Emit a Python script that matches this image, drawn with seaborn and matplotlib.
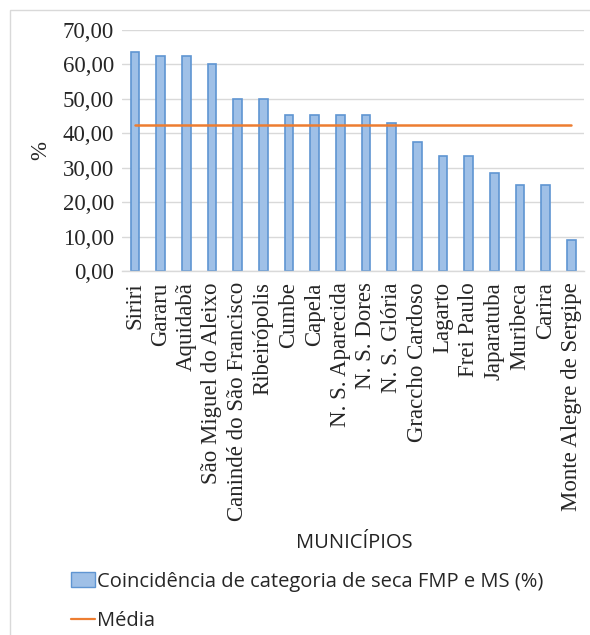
import matplotlib
matplotlib.use("Agg")
import matplotlib.pyplot as plt
from matplotlib.patches import Patch, Rectangle
from matplotlib.lines import Line2D
import seaborn as sns
import pandas as pd

# Municípios and drought-category coincidence (%)
municipios = [
    "Siriri", "Gararu", "Aquidabã", "São Miguel do Aleixo",
    "Canindé do São Francisco", "Ribeirópolis", "Cumbe", "Capela",
    "N. S. Aparecida", "N. S. Dores", "N. S. Glória", "Graccho Cardoso",
    "Lagarto", "Frei Paulo", "Japaratuba", "Muribeca", "Carira",
    "Monte Alegre de Sergipe",
]
coincidencia = [
    63.64, 62.50, 62.50, 60.00, 50.00, 50.00, 45.45, 45.45, 45.45,
    45.45, 42.86, 37.50, 33.33, 33.33, 28.57, 25.00, 25.00, 9.09,
]
media = 42.51
yticks = [0, 10, 20, 30, 40, 50, 60, 70]

df = pd.DataFrame({"municipio": municipios, "valor": coincidencia})

sns.set_theme(style="white")
plt.rcParams["font.family"] = ["Liberation Serif", "DejaVu Serif"]

fig = plt.figure(figsize=(5.9, 6.35), dpi=100)
ax = fig.add_axes([0.207, 0.5732, 0.783, 0.3796])

bar_fill = "#9fc0e7"
bar_edge = "#5f95d2"
sns.barplot(data=df, x="municipio", y="valor", ax=ax, width=0.33,
            color=bar_fill, edgecolor=bar_edge, linewidth=1.2,
            saturation=1)

ax.plot([0, len(municipios) - 1], [media, media], color="#ed7d31",
        linewidth=1.8, zorder=3)

ax.set_ylim(0, 70)
ax.set_xlim(-0.5, len(municipios) - 0.5)
ax.set_yticks(yticks)
ax.set_yticklabels([f"{v:.2f}".replace(".", ",") for v in yticks],
                   fontsize=16.5)
ax.set_xticks(range(len(municipios)))
ax.set_xticklabels(municipios, rotation=90, fontsize=16.5)
ax.tick_params(axis="both", length=0, pad=6)
ax.tick_params(axis="x", pad=8)

ax.yaxis.grid(True, color="#d9d9d9", linewidth=1.0)
ax.set_axisbelow(True)
for side in ["left", "right", "top"]:
    ax.spines[side].set_visible(False)
ax.spines["bottom"].set_color("#d9d9d9")
ax.spines["bottom"].set_linewidth(1.0)

ax.set_xlabel("")
ax.set_ylabel("%", fontsize=16.5, labelpad=8)

sans = ["Open Sans", "DejaVu Sans"]
fig.text(0.600, 0.145, "MUNICÍPIOS", ha="center", va="center",
         fontsize=14.5, family=sans, color="#222222")

handles = [
    Patch(facecolor=bar_fill, edgecolor=bar_edge, linewidth=1.0),
    Line2D([0], [0], color="#ed7d31", linewidth=1.6),
]
labels = ["Coincidência de categoria de seca FMP e MS (%)", "Média"]
fig.legend(handles, labels, loc="upper left", bbox_to_anchor=(0.120, 0.100),
           frameon=False, handlelength=1.2, handletextpad=0.12,
           labelspacing=0.95, borderaxespad=0, borderpad=0,
           prop={"family": sans, "size": 14.5})

# light frame around the whole chart area
fig.patches.append(Rectangle((10 / 590, -0.01), 1.0, 1 - 10 / 635 + 0.01,
                             transform=fig.transFigure, fill=False,
                             edgecolor="#d9d9d9", linewidth=1.0))

fig.savefig("out.png", dpi=100, facecolor="white")
